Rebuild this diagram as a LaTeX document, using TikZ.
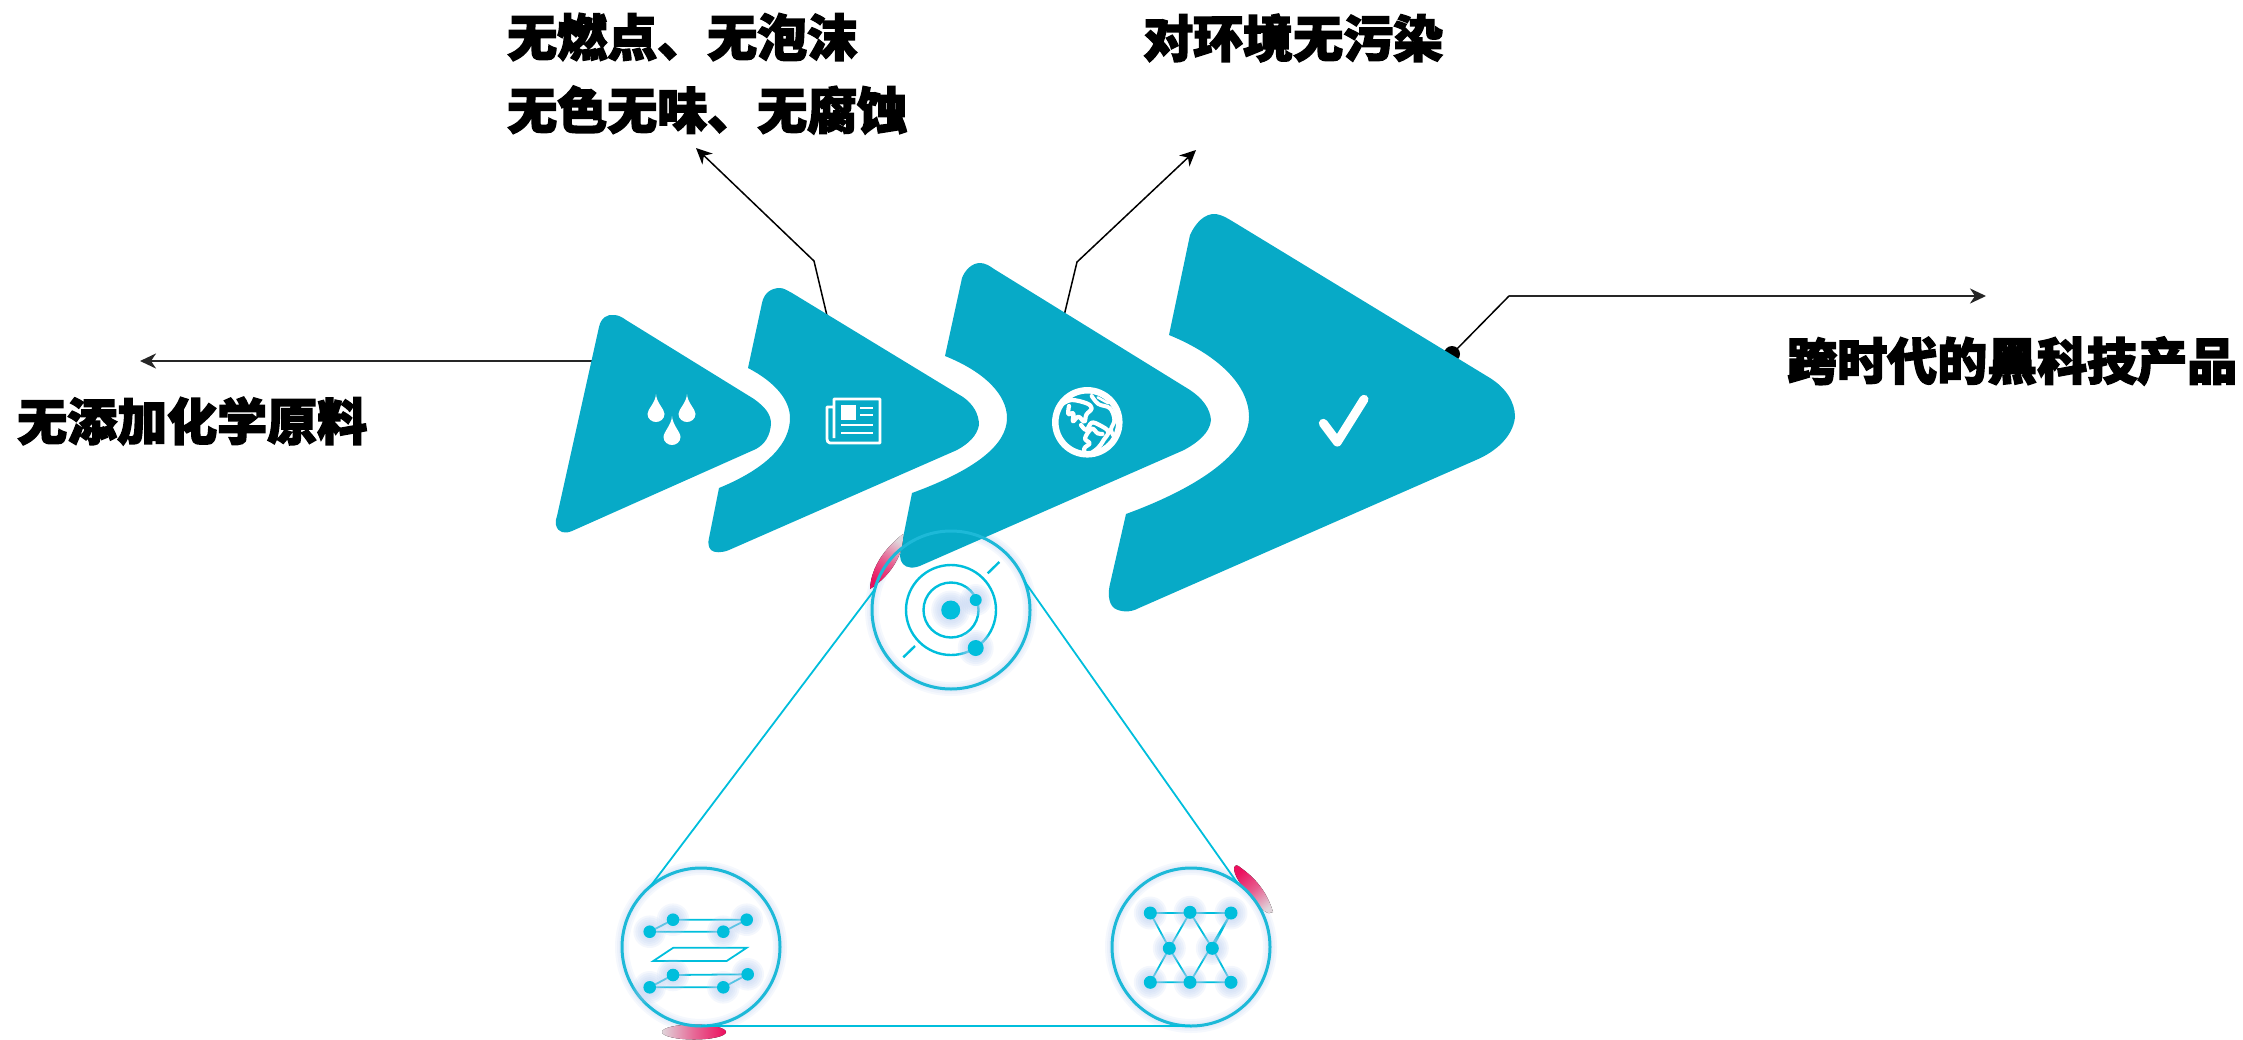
\documentclass[tikz,border=0pt]{standalone}
\usepackage{fontspec}
\usetikzlibrary{arrows.meta}
\newfontfamily\cjk[BoldFeatures={FakeBold=3}]{Noto Sans CJK SC}
\definecolor{teal1}{HTML}{07AAC7}
\definecolor{ringc}{HTML}{1DB9D8}
\definecolor{dotc}{HTML}{00BEDC}
\definecolor{glowc}{HTML}{B9CDF0}
\definecolor{pinkc}{HTML}{EC0F5E}
\definecolor{fadec}{HTML}{E0D4DA}
\tikzset{
  labeltext/.style={anchor=west,inner sep=0pt,font=\cjk\bfseries\fontsize{50}{60}\selectfont,text=black},
  leader/.style={draw=black,line width=1.5pt,-{Stealth[length=16pt,width=15pt,inset=5pt]}},
  leaderh/.style={draw=black!85,line width=2.4pt,-{Stealth[length=16pt,width=15pt,inset=5pt]}},
  petal/.style={fill=teal1,draw=none},
  ringnode/.style={circle,minimum size=158pt,inner sep=0pt,outer sep=0pt,draw=ringc,line width=3pt},
  tri/.style={draw=dotc,line width=1.8pt},
  icon/.style={draw=dotc,line width=2.4pt},
  wht/.style={draw=white,line cap=round,line join=round},
}
\newcommand{\glowdot}[3]{%
  \foreach \k in {10,8,6,4,2}{\fill[glowc,opacity=.16] (#1,#2) circle ({#3+\k});}
  \fill[dotc] (#1,#2) circle (#3);}
\newcommand{\ringglow}[2]{%
  \foreach \k in {14,10,6}{\draw[glowc,opacity=.14,line width=\k pt] (#1,#2) circle (79);}}
\newcommand{\drop}[3]{% cx, top, bottom
  \fill[white] (#1,#2) .. controls ({#1+.5},{#2+9}) and ({#1+8.5},{#3-13}) .. ({#1+8.5},{#3-8})
     .. controls ({#1+8.5},{#3-3}) and ({#1+4},{#3}) .. (#1,#3)
     .. controls ({#1-4},{#3}) and ({#1-8.5},{#3-3}) .. ({#1-8.5},{#3-8})
     .. controls ({#1-8.5},{#3-13}) and ({#1-.5},{#2+9}) .. (#1,#2) -- cycle;}
\begin{document}
\begin{tikzpicture}[x=1pt,y=-1pt]
\useasboundingbox (0,0) rectangle (2243,1039);
% connector ends
\coordinate (c1s) at (596,361);   \coordinate (c1e) at (140,361);
\coordinate (c2s) at (828,320);   \coordinate (c2m) at (814,261);  \coordinate (c2e) at (696,148);
\coordinate (c3s) at (1063,320);  \coordinate (c3m) at (1077,262); \coordinate (c3e) at (1196,150);
\coordinate (c4s) at (1452,354);  \coordinate (c4m) at (1509,296); \coordinate (c4e) at (1986,296);
% connectors (behind the shapes)
\draw[leaderh] (c1s) -- (c1e);
\draw[leader] (c2s) -- (c2m) -- (c2e);
\draw[leader] (c3s) -- (c3m) -- (c3e);
\fill[black] (c4s) circle (8);
\draw[draw=black,line width=1.5pt] (c4s) -- (c4m);
\draw[leaderh] (c4m) -- (c4e);
% glow of the rings (behind the shapes)
\ringglow{951}{610}
\ringglow{701}{947}
\ringglow{1191}{947}
% shapes
\fill[petal] (599,327) .. controls (601,318) and (607,314) .. (614,315)
  .. controls (618,315) and (622,317) .. (626,320) -- (754,399)
  .. controls (765,407) and (771,414) .. (771,424)
  .. controls (770,436) and (765,444) .. (756,449) -- (572,531)
  .. controls (565,534) and (558,533) .. (556,525)
  .. controls (555,522) and (556,519) .. (557,516) -- (565,480) -- cycle;
\fill[petal] (762,303) .. controls (764,293) and (771,288) .. (780,288)
  .. controls (784,288) and (788,291) .. (792,293) -- (963,397)
  .. controls (973,404) and (979,414) .. (979,425)
  .. controls (977,436) and (968,444) .. (957,450) -- (729,550)
  .. controls (722,553) and (714,553) .. (711,550)
  .. controls (708,547) and (708,542) .. (709,538) -- (719,488)
  .. controls (770,467) and (790,442) .. (790,418)
  .. controls (790,400) and (775,382) .. (748,368) -- cycle;
\fill[petal] (962,278) .. controls (965,270) and (972,263) .. (980,263)
  .. controls (985,263) and (990,266) .. (994,269) -- (1190,390)
  .. controls (1202,398) and (1210,408) .. (1211,420)
  .. controls (1210,433) and (1197,443) .. (1184,450) -- (922,565)
  .. controls (914,569) and (906,568) .. (903,564)
  .. controls (899,560) and (900,553) .. (901,548) -- (912,493)
  .. controls (975,470) and (1007,445) .. (1007,418)
  .. controls (1007,395) and (985,372) .. (945,356) -- cycle;
\fill[petal] (1190,235) .. controls (1195,224) and (1204,213) .. (1216,214)
  .. controls (1222,215) and (1227,218) .. (1232,221) -- (1490,378)
  .. controls (1506,388) and (1515,402) .. (1515,417)
  .. controls (1513,437) and (1495,452) .. (1476,460) -- (1139,608)
  .. controls (1130,613) and (1120,612) .. (1114,608)
  .. controls (1108,603) and (1108,592) .. (1110,584) -- (1126,514)
  .. controls (1205,485) and (1249,450) .. (1249,417)
  .. controls (1249,385) and (1218,355) .. (1169,335) -- cycle;
% white icons
\drop{656}{394}{422}
\drop{687}{394}{422}
\drop{672}{416}{445}
\draw[draw=white,line width=2.8pt,line join=round] (834,407) -- (834,399) -- (880,399) -- (880,443) -- (830,443) .. controls (828,443) and (827,441) .. (827,439) -- (827,407) -- (834,407) -- (834,438);
\fill[white] (841,405) rectangle (856,420);
\draw[draw=white,line width=2.8pt] (860,408) -- (873,408) (860,415) -- (873,415) (841,425) -- (873,425) (841,433) -- (873,433);
\draw[draw=white,line width=6.5pt] (1087.3,422.3) circle (32);
\begin{scope}[shift={(1045,380)},x=.3333pt,y=-.3333pt]
  \draw[wht,line width=4.2pt] plot[smooth,tension=.6] coordinates {(52,72) (80,60) (125,70) (140,85) (124,104) (118,125) (100,110) (84,124) (85,100) (70,102) (72,78)};
  \draw[wht,line width=4.2pt] plot[smooth,tension=.6] coordinates {(108,135) (124,150) (140,128) (165,136) (190,155) (176,180) (158,205) (125,225) (118,205) (134,190) (120,175) (140,146) (158,160) (172,162)};
  \draw[wht,line width=4pt] plot[smooth,tension=.6] coordinates {(140,48) (160,72) (195,85) (208,120) (198,148) (206,168)};
  \draw[wht,line width=2.5pt] (158,52) -- (190,70);
\end{scope}
\draw[draw=white,line width=9pt,line cap=round,line join=round] (1323.3,423.3) -- (1337.3,442) -- (1364,399.3);
% accents
\fill[bottom color=pinkc,top color=fadec,middle color=pinkc!60!fadec,shading angle=-32]
  (870,589) .. controls (871,567) and (885,548) .. (903,534) .. controls (904,552) and (893,574) .. (870,589) -- cycle;
\fill[bottom color=pinkc,top color=fadec,middle color=pinkc!60!fadec,shading angle=-140]
  (1234,868) .. controls (1235,864) and (1238,865) .. (1241,868) .. controls (1258,880) and (1268,895) .. (1273,912) .. controls (1268,916) and (1262,910) .. (1250,896) .. controls (1240,884) and (1234,875) .. (1234,868) -- cycle;
\fill[left color=fadec,right color=pinkc,middle color=pinkc!55!fadec] (694,1032) ellipse (32 and 7.5);
% triangle lines and rings
\node[ringnode] (rtop) at (951,610) {};
\node[ringnode] (rbl) at (701,947) {};
\node[ringnode] (rbr) at (1191,947) {};
\draw[tri] (rtop.165) -- (rbl.130);
\draw[tri] (rtop.21) -- (rbr.54);
\draw[tri] (rbl.south) -- (rbr.south);
% top icon
\glowdot{950.7}{610}{9.5}
\draw[icon] (951,610) circle (27.5);
\draw[icon] (951,610) circle (45);
\draw[icon] (987.7,573.3) -- (999.3,562);
\draw[icon] (903.3,657.3) -- (915,646);
\glowdot{975.7}{600}{6}
\glowdot{975.7}{648}{8}
% left icon
\draw[tri] (649.7,931.7) -- (673,919.7) -- (746.7,919.7) -- (723.3,931.7) -- cycle;
\draw[tri] (649.7,987.3) -- (673,975) -- (747.7,974.3) -- (723.3,987.3) -- cycle;
\draw[tri] (653.3,961) -- (726.7,961) -- (746.7,947.7) -- (673.3,947.7) -- cycle;
\glowdot{673}{919.7}{6.3}
\glowdot{746.7}{919.7}{6.3}
\glowdot{649.7}{931.7}{6.3}
\glowdot{723.3}{931.7}{6.3}
\glowdot{673}{975}{6.3}
\glowdot{747.7}{974.3}{6.3}
\glowdot{649.7}{987.3}{6.3}
\glowdot{723.3}{987.3}{6.3}
% right icon
\draw[tri] (1150.3,913) -- (1231,913) -- (1190,982.3) -- (1169.3,948.3) -- (1150.3,982.3) -- (1231,982.3) -- (1212.3,948.3) -- (1190,912.3) -- (1169.3,948.3) -- (1150.3,913);
\draw[tri] (1212.3,948.3) -- (1231,913);
\glowdot{1150.3}{913}{6.5}
\glowdot{1190}{912.3}{6.5}
\glowdot{1231}{913}{6.5}
\glowdot{1169.3}{948.3}{6.5}
\glowdot{1212.3}{948.3}{6.5}
\glowdot{1150.3}{982.3}{6.5}
\glowdot{1190}{982.3}{6.5}
\glowdot{1231}{982.3}{6.5}
% labels
\node[labeltext] (t1) at (17,421) {无添加化学原料};
\node[labeltext] (t2a) at (507,37) {无燃点、无泡沫};
\node[labeltext] (t2b) at (507,110) {无色无味、无腐蚀};
\node[labeltext] (t3) at (1143,38) {对环境无污染};
\node[labeltext] (t4) at (1787,361) {跨时代的黑科技产品};
\end{tikzpicture}
\end{document}
